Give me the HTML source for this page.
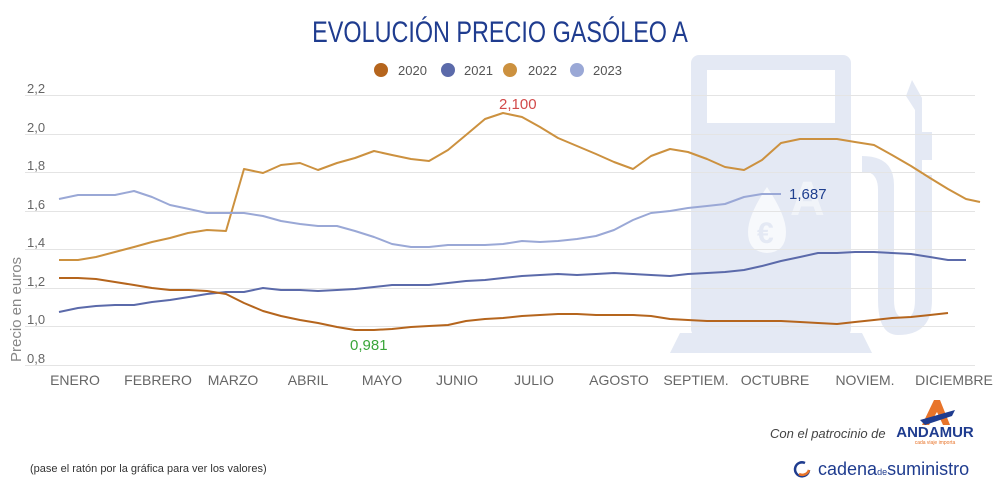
<!DOCTYPE html>
<html><head><meta charset="utf-8"><style>
html,body{margin:0;padding:0;background:#fff;}
svg{display:block;font-family:"Liberation Sans",sans-serif;}
</style></head><body>
<svg width="1000" height="500" viewBox="0 0 1000 500" xmlns="http://www.w3.org/2000/svg">
<rect width="1000" height="500" fill="#fff"/>
<!-- watermark pump -->
<g fill="#E4E9F4">
<rect x="691" y="55" width="160" height="282" rx="8"/>
<polygon points="680,333 862,333 872,353 670,353"/>
<path d="M912,80 L922,98 L922,132 L932,132 L932,160 L922,160 L922,175 L932,175 L932,300 Q932,335 898,335 Q878,335 878,300 L878,190 Q878,175 868,172 L862,172 L862,156 Q894,156 894,185 L894,300 Q894,318 905,318 Q915,318 915,300 L915,110 L906,96 Z"/>
</g>
<rect x="707" y="70" width="128" height="53" fill="#fff"/>
<path d="M767,187 Q748,215 748,232 Q748,252 767,253 Q786,252 786,232 Q786,215 767,187Z" fill="#fff" opacity="0.7"/>
<text x="757" y="243" font-size="30" font-weight="bold" fill="#E4E9F4">€</text>
<text x="790" y="215" font-size="48" font-weight="bold" fill="#fff" opacity="0.5">A</text>
<!-- title -->
<text x="500" y="42" text-anchor="middle" font-size="30" fill="#1F3C8F" transform="translate(500,0) scale(0.78,1) translate(-500,0)">EVOLUCIÓN PRECIO GASÓLEO A</text>
<!-- legend -->
<g font-size="13" fill="#555">
<circle cx="381" cy="70" r="7" fill="#B5651D"/><text x="398" y="75">2020</text>
<circle cx="448" cy="70" r="7" fill="#5B6AAA"/><text x="464" y="75">2021</text>
<circle cx="510" cy="70" r="7" fill="#CC913F"/><text x="528" y="75">2022</text>
<circle cx="577" cy="70" r="7" fill="#9AA8D6"/><text x="593" y="75">2023</text>
</g>
<!-- grid -->
<g stroke="#E4E4E4" stroke-width="1">
<line x1="25" x2="975" y1="95.5" y2="95.5"/><line x1="25" x2="975" y1="134.5" y2="134.5"/>
<line x1="25" x2="975" y1="172.5" y2="172.5"/><line x1="25" x2="975" y1="211.5" y2="211.5"/>
<line x1="25" x2="975" y1="249.5" y2="249.5"/><line x1="25" x2="975" y1="288.5" y2="288.5"/>
<line x1="25" x2="975" y1="326.5" y2="326.5"/><line x1="25" x2="975" y1="365.5" y2="365.5"/>
</g>
<g font-size="13" fill="#666">
<text x="27" y="93">2,2</text><text x="27" y="132">2,0</text><text x="27" y="170">1,8</text>
<text x="27" y="209">1,6</text><text x="27" y="247">1,4</text><text x="27" y="286">1,2</text>
<text x="27" y="324">1,0</text><text x="27" y="363">0,8</text>
</g>
<text transform="translate(21,362) rotate(-90)" font-size="15" fill="#888">Precio en euros</text>
<!-- series -->
<g fill="none" stroke-width="2" stroke-linejoin="round">
<polyline stroke="#CC913F" points="59,260 78,260 96,257 115,252 134,247 152,242 170,238 188,233 207,230 226,231 244,169 263,173 281,165 300,163 318,170 337,163 355,158 374,151 392,155 411,159 429,161 448,150 466,135 485,119 503,113 522,117 540,127 558,138 577,146 596,154 614,162 633,169 651,156 670,149 688,152 707,159 725,167 744,170 762,160 781,143 800,139 818,139 837,139 855,142 874,145 892,155 911,166 930,178 948,189 966,199 980,202"/>
<polyline stroke="#9AA8D6" points="59,199 78,195 96,195 115,195 134,191 152,197 170,205 189,209 207,213 226,213 244,213 263,216 281,221 300,224 318,226 337,226 355,231 374,237 392,244 411,247 429,247 448,245 466,245 485,245 503,244 522,241 540,242 558,241 577,239 596,236 614,230 633,220 651,213 670,211 688,208 707,206 725,204 744,197 762,194 781,194"/>
<polyline stroke="#5B6AAA" points="59,312 78,308 96,306 115,305 134,305 152,302 170,300 189,297 207,294 226,292 244,292 263,288 281,290 300,290 318,291 337,290 355,289 374,287 392,285 411,285 429,285 448,283 466,281 485,280 503,278 522,276 540,275 558,274 577,275 596,274 614,273 633,274 651,275 670,276 688,274 707,273 725,272 744,270 762,266 781,261 800,257 818,253 837,253 855,252 874,252 892,253 911,254 930,257 948,260 966,260"/>
<polyline stroke="#B5651D" points="59,278 78,278 96,279 115,282 134,285 152,288 170,290 189,290 207,291 226,294 244,303 263,311 281,316 300,320 318,323 337,327 355,330 374,330 392,329 411,327 429,326 448,325 466,321 485,319 503,318 522,316 540,315 558,314 577,314 596,315 614,315 633,315 651,316 670,319 688,320 707,321 725,321 744,321 762,321 781,321 800,322 818,323 837,324 855,322 874,320 892,318 911,317 930,315 948,313"/>
</g>
<text x="499" y="109" font-size="15" fill="#D24A4A">2,100</text>
<text x="789" y="199" font-size="15" fill="#1F3F8F">1,687</text>
<text x="350" y="350" font-size="15" fill="#3AA63A">0,981</text>
<!-- months -->
<g font-size="14" fill="#666" text-anchor="middle">
<text x="75" y="385">ENERO</text><text x="158" y="385">FEBRERO</text><text x="233" y="385">MARZO</text>
<text x="308" y="385">ABRIL</text><text x="382" y="385">MAYO</text><text x="457" y="385">JUNIO</text>
<text x="534" y="385">JULIO</text><text x="619" y="385">AGOSTO</text><text x="696" y="385">SEPTIEM.</text>
<text x="775" y="385">OCTUBRE</text><text x="865" y="385">NOVIEM.</text><text x="954" y="385">DICIEMBRE</text>
</g>
<!-- footer -->
<text x="770" y="438" font-size="13" font-style="italic" fill="#444">Con el patrocinio de</text>
<polygon points="934,400 940,400 950,425 943,425 937,412 929,425 922,425" fill="#E8742A"/>
<polygon points="920,420 955,410 952,416 925,425" fill="#1F3C8F"/>
<text x="935" y="437" font-size="15" font-weight="bold" fill="#1F3C8F" text-anchor="middle">ANDAMUR</text>
<text x="935" y="444" font-size="5" fill="#E8742A" text-anchor="middle">cada viaje importa</text>
<text x="30" y="472" font-size="11" fill="#333">(pase el ratón por la gráfica para ver los valores)</text>
<path d="M805,463 A7,7 0 1 0 809,470" fill="none" stroke="#1F3C8F" stroke-width="2.5"/>
<path d="M809,470 A7,7 0 0 1 799,474" fill="none" stroke="#E8742A" stroke-width="2.5"/>
<text x="818" y="475" font-size="18" fill="#1F3C8F">cadena<tspan font-size="9">de</tspan>suministro</text>
</svg>
</body></html>
